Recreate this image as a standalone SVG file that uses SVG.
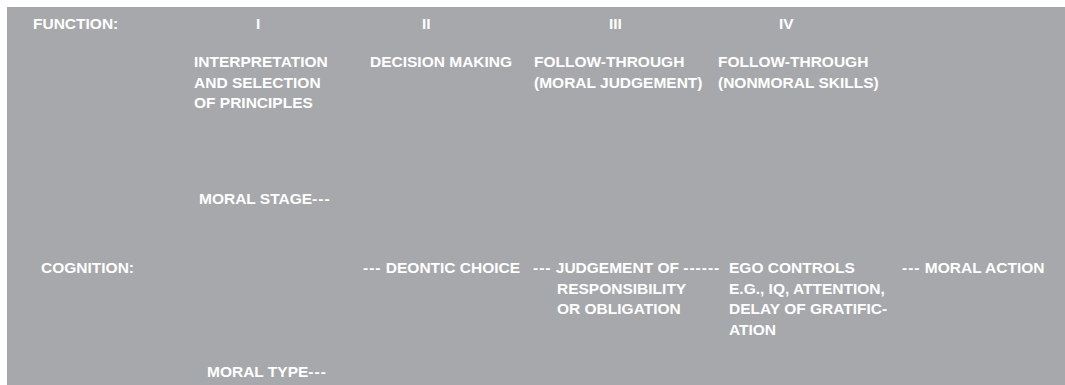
<svg xmlns="http://www.w3.org/2000/svg" width="1065" height="385" viewBox="0 0 1065 385">
  <style>
    .t { font-family: "Liberation Sans", Arial, Helvetica, sans-serif; font-weight: bold; font-size: 15.5px; fill: #ffffff; }
    .d { letter-spacing: 1px; }
  </style>
  <rect x="0" y="0" width="1065" height="385" fill="#ffffff"/>
  <rect x="7" y="7" width="1058" height="378" fill="#a7a8ab"/>

  <!-- header row: function numerals -->
  <g id="function-row">
    <text class="t" x="33" y="29">FUNCTION:</text>
    <text class="t" x="256" y="29">I</text>
    <text class="t" x="422" y="29">II</text>
    <text class="t" x="609" y="29">III</text>
    <text class="t" x="779" y="29">IV</text>
  </g>

  <!-- function descriptions -->
  <g id="func-1">
    <text class="t" x="194" y="67">INTERPRETATION</text>
    <text class="t" x="194" y="87.5">AND SELECTION</text>
    <text class="t" x="194" y="108">OF PRINCIPLES</text>
  </g>
  <g id="func-2">
    <text class="t" x="370" y="67">DECISION MAKING</text>
  </g>
  <g id="func-3">
    <text class="t" x="534" y="67">FOLLOW-THROUGH</text>
    <text class="t" x="534" y="87.5">(MORAL JUDGEMENT)</text>
  </g>
  <g id="func-4">
    <text class="t" x="718" y="67">FOLLOW-THROUGH</text>
    <text class="t" x="718" y="87.5">(NONMORAL SKILLS)</text>
  </g>

  <!-- cognition chain -->
  <g id="moral-stage">
    <text class="t" x="199" y="204">MORAL STAGE<tspan class="d">---</tspan></text>
  </g>
  <g id="cognition-label">
    <text class="t" x="41" y="273">COGNITION:</text>
  </g>
  <g id="deontic-choice">
    <text class="t" x="363" y="273"><tspan class="d">---</tspan> DEONTIC CHOICE</text>
  </g>
  <g id="judgement">
    <text class="t" x="533" y="273"><tspan class="d">---</tspan> JUDGEMENT OF <tspan class="d">------</tspan></text>
    <text class="t" x="557" y="293.5">RESPONSIBILITY</text>
    <text class="t" x="557" y="314">OR OBLIGATION</text>
  </g>
  <g id="ego-controls">
    <text class="t" x="729" y="273">EGO CONTROLS</text>
    <text class="t" x="729" y="293.5">E.G., IQ, ATTENTION,</text>
    <text class="t" x="729" y="314">DELAY OF GRATIFIC-</text>
    <text class="t" x="729" y="334.5">ATION</text>
  </g>
  <g id="moral-action">
    <text class="t" x="902" y="273"><tspan class="d">---</tspan> MORAL ACTION</text>
  </g>
  <g id="moral-type">
    <text class="t" x="207" y="377">MORAL TYPE<tspan class="d">---</tspan></text>
  </g>
</svg>
